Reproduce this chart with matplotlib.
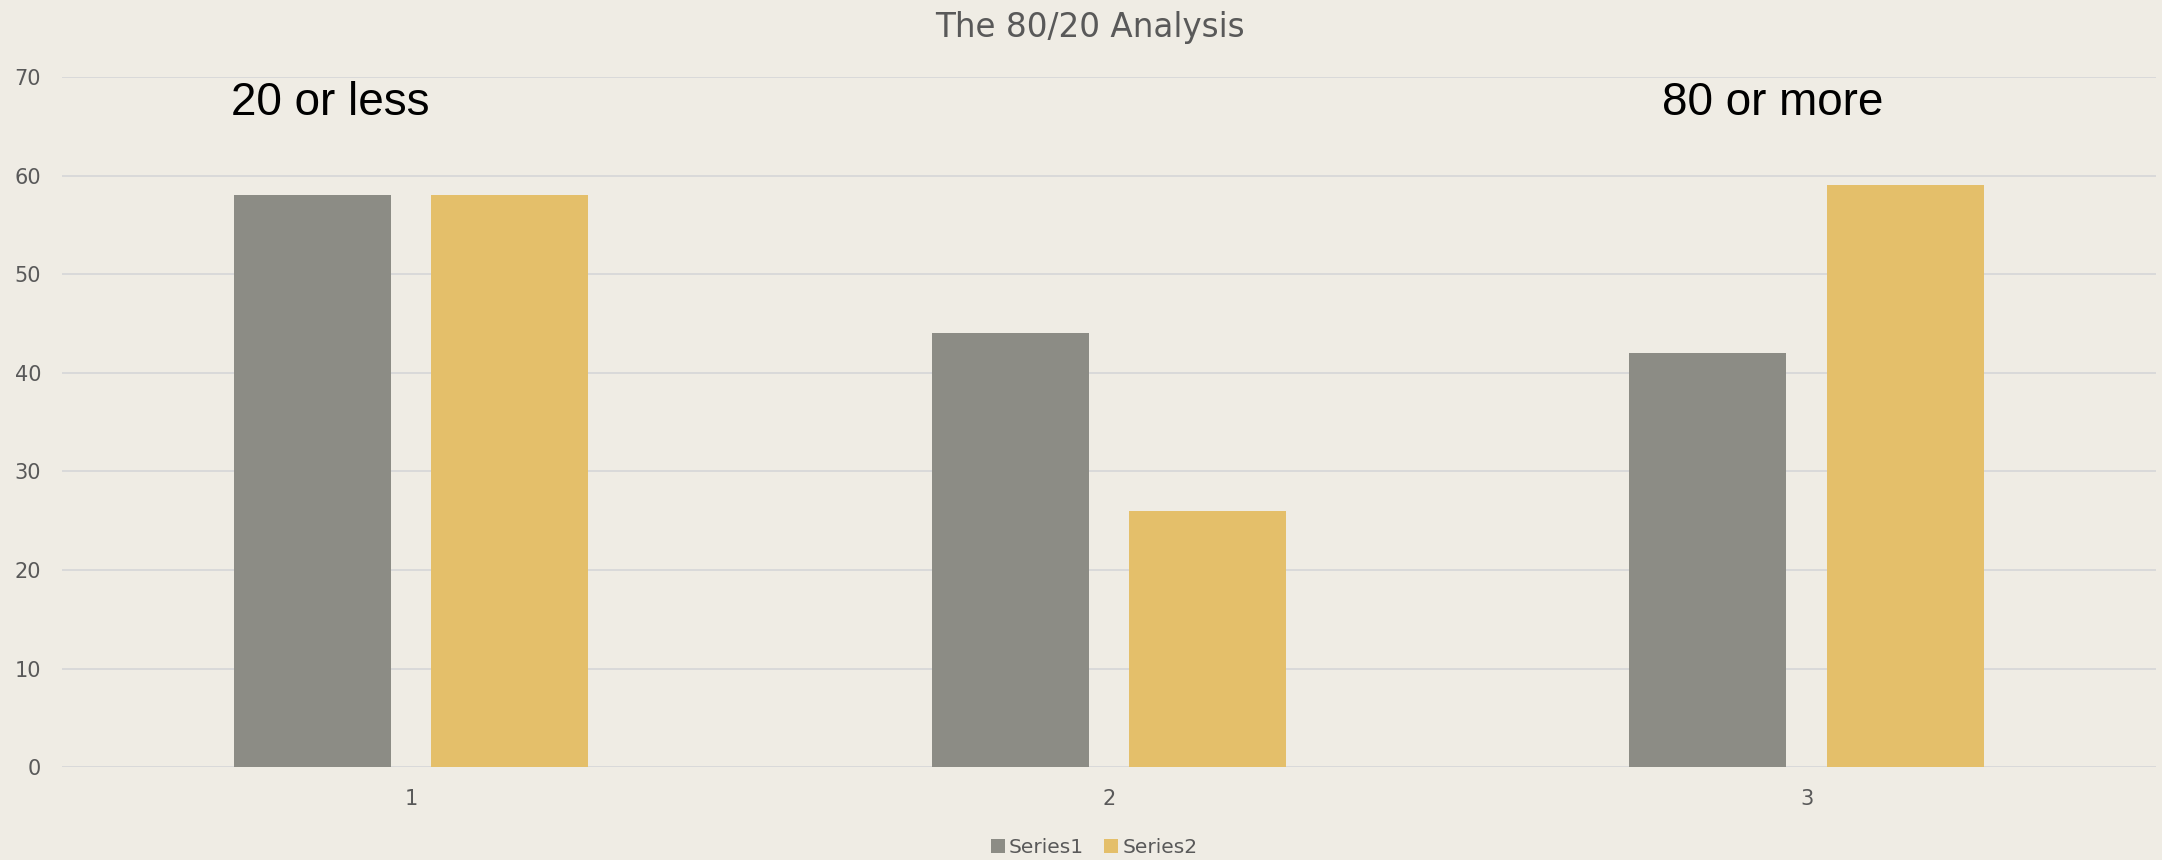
import numpy as np
import matplotlib.pyplot as plt
from matplotlib.patches import Patch

# data
categories = ["1", "2", "3"]
series1 = [58, 44, 42]
series2 = [58, 26, 59]
series_names = ["Series1", "Series2"]
notes = [("20 or less", 0.884), ("80 or more", 2.951)]

BG = "#EFECE4"
GRAY = "#8C8C85"
GOLD = "#E4BF6A"
TXT = "#595959"
GRID = "#D9D9D9"

fig = plt.figure(figsize=(21.62, 8.6), dpi=100, facecolor=BG)
ax = fig.add_axes([0.0287, 0.108, 0.9683, 0.8025], facecolor=BG)

x = np.arange(1, len(categories) + 1)
w = 0.225
off = 0.1415
ax.bar(x - off, series1, width=w, color=GRAY, zorder=3)
ax.bar(x + off, series2, width=w, color=GOLD, zorder=3)

ax.set_xlim(0.5, 3.5)
ax.set_ylim(0, 70)
ax.set_yticks(range(0, 71, 10))
ax.set_xticks(x)
ax.set_xticklabels(categories)
ax.grid(axis="y", color=GRID, linewidth=1.4, zorder=0)
ax.set_axisbelow(True)
for s in ax.spines.values():
    s.set_visible(False)
ax.tick_params(axis="both", length=0, labelsize=15, colors=TXT)
ax.tick_params(axis="y", pad=15)
ax.tick_params(axis="x", pad=16)

for txt, xp in notes:
    ax.text(xp, 67.4, txt, ha="center", va="center", fontsize=33,
            family="Liberation Sans", color="black")

fig.text(0.504, 0.968, "The 80/20 Analysis", ha="center", va="center",
         fontsize=23.5, color=TXT)

handles = [Patch(facecolor=GRAY), Patch(facecolor=GOLD)]
fig.legend(handles, series_names, loc="center", bbox_to_anchor=(0.506, 0.015),
           ncol=2, frameon=False, fontsize=14.5, labelcolor=TXT,
           handlelength=0.7, handleheight=0.7, handletextpad=0.2,
           columnspacing=1.0)

fig.savefig("out.png", dpi=100, facecolor=BG)
